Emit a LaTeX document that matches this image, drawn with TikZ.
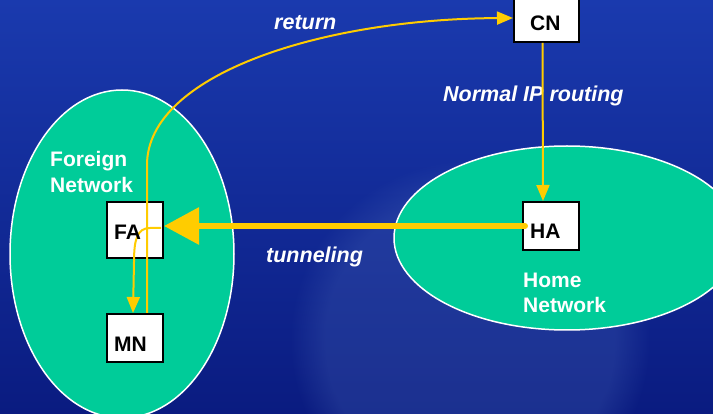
\documentclass[tikz,border=0pt]{standalone}
\usepackage{fontspec}
\setmainfont{Liberation Sans}
\usetikzlibrary{arrows.meta,shapes.geometric,fadings}
\definecolor{bgtop}{HTML}{1A3AAE}
\definecolor{bgbot}{HTML}{0A1B80}
\definecolor{glow}{HTML}{4A68B8}
\definecolor{netfill}{HTML}{00CC99}
\definecolor{gold}{HTML}{FFCC00}
\begin{document}
\begin{tikzpicture}[x=1pt,y=-1pt,
  net/.style={ellipse, draw=white, line width=1.5pt, fill=netfill, inner sep=0pt},
  box/.style={draw=black, line width=2pt, fill=white, inner sep=0pt, outer sep=1pt},
  boxtxt/.style={font=\bfseries\fontsize{21}{21}\selectfont, text=black, inner sep=0pt, anchor=base west},
  lbl/.style={font=\bfseries\fontsize{21}{21}\selectfont, text=white, inner sep=0pt, anchor=base west},
  itl/.style={font=\bfseries\itshape\fontsize{21.5}{21.5}\selectfont, text=white, inner sep=0pt, anchor=base west},
  thinarrow/.style={draw=gold, line width=2pt, -{Triangle[length=16pt,width=13pt]}},
  thickarrow/.style={draw=gold, line width=6pt, line cap=round, -{Triangle[length=35pt,width=36pt]}}
]
\useasboundingbox (0,0) rectangle (713,414);
\begin{scope}
\clip (0,0) rectangle (713,414);
\fill[top color=bgtop, bottom color=bgbot] (0,0) rectangle (713,414);
\fill[glow, opacity=0.28, path fading=circle with fuzzy edge 20 percent] (470,340) circle (180);

% networks
\node[net, minimum width=224pt, minimum height=328pt] (FN) at (122,254) {};
\node[net, minimum width=346pt, minimum height=184pt] (HN) at (567,238) {};

% boxes
\node[box, minimum width=56pt, minimum height=56pt] (FA) at (135,230) {};
\node[box, minimum width=56pt, minimum height=48pt] (MN) at (135,338) {};
\node[box, minimum width=56pt, minimum height=48pt] (HA) at (551,226) {};
\node[box, minimum width=65pt, minimum height=48pt] (CN) at (546.5,18) {};

% network labels
\node[lbl] (fl1) at (50,167) {Foreign};
\node[lbl] (fl2) at (50,193) {Network};
\node[lbl] (hl1) at (523,288) {Home};
\node[lbl] (hl2) at (523,313) {Network};

% connector labels
\node[itl] (ret) at (274,30) {return};
\node[itl] (nip) at (443,102) {Normal IP routing};
\node[itl] (tun) at (266,263) {tunneling};

% connectors
\draw[thinarrow] ([xshift=-4pt]CN.south) -- ([xshift=-8pt]HA.north);
\draw[thickarrow] ([xshift=3pt]HA.west) -- (FA.east |- HA.west);
\coordinate (ftip) at (161,228);
\draw[thinarrow] (ftip) -- (150,228) .. controls (137,228) and (134,240) .. (134,262) -- ([xshift=-2pt]MN.north);
\draw[thinarrow] ([xshift=12pt]MN.north) -- (147,165) .. controls (147,75) and (320,19) .. (CN.west);

% box texts
\node[boxtxt] (fat) at (114,240) {FA};
\node[boxtxt] (mnt) at (114,352) {MN};
\node[boxtxt] (hat) at (530,239) {HA};
\node[boxtxt] (cnt) at (530,31) {CN};
\end{scope}
\end{tikzpicture}
\end{document}
